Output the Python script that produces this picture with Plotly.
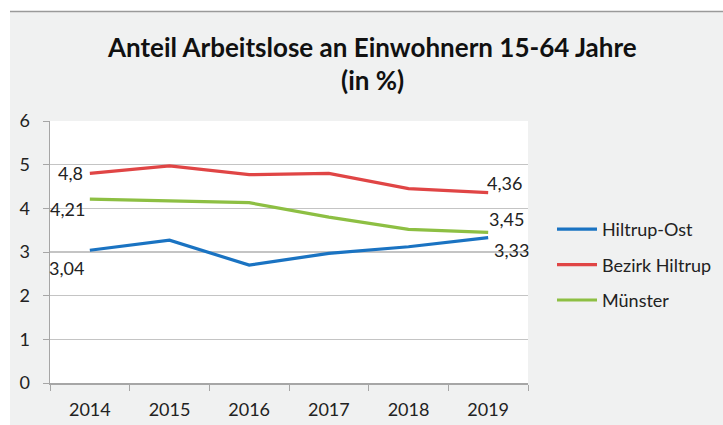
import plotly.graph_objects as go

years = ["2014", "2015", "2016", "2017", "2018", "2019"]
hiltrup_ost = [3.04, 3.27, 2.70, 2.97, 3.12, 3.33]
bezirk_hiltrup = [4.8, 4.97, 4.77, 4.80, 4.45, 4.36]
muenster = [4.21, 4.17, 4.13, 3.80, 3.52, 3.45]
series_names = ["Hiltrup-Ost", "Bezirk Hiltrup", "Münster"]
colors = ["#1a73c2", "#e04545", "#8dbf43"]
title_lines = ["Anteil Arbeitslose an Einwohnern 15-64 Jahre", "(in %)"]

FONT = "Lato"
series = [hiltrup_ost, bezirk_hiltrup, muenster]

W, H = 723, 425
L, R, T, B = 50, 723 - 528, 121, 425 - 383
pw, ph = W - L - R, H - T - B

def px2x(px):  # page px -> paper x
    return (px - L) / pw

def py2y(py):  # page px -> paper y
    return (H - B - py) / ph

fig = go.Figure()
for i, (name, vals) in enumerate(zip(series_names, series)):
    fig.add_trace(go.Scatter(
        x=years, y=vals, name=name, mode="lines",
        line=dict(color=colors[i], width=3.2),
        legendgroup=name, hoverinfo="skip",
    ))

def lab(v):
    return f"{v}".replace(".", ",")

ann = []
first_shifts = [(-4, -18), (-5, 0), (-3, -10)]
last_shifts = [(4, -12), (-3, 10), (-1, 13)]
for i, vals in enumerate(series):
    dx, dy = first_shifts[i]
    ann.append(dict(x=0, y=vals[0], xref="x", yref="y", text=lab(vals[0]),
                    showarrow=False, xanchor="right", yanchor="middle",
                    xshift=dx, yshift=dy, font=dict(family=FONT, size=18, color="#222")))
    dx, dy = last_shifts[i]
    ann.append(dict(x=len(years) - 1, y=vals[-1], xref="x", yref="y", text=lab(vals[-1]),
                    showarrow=False, xanchor="left", yanchor="middle",
                    xshift=dx, yshift=dy, font=dict(family=FONT, size=18, color="#222")))

for txt, py in zip(title_lines, [47, 80]):
    ann.append(dict(x=px2x(372), y=py2y(py), xref="paper", yref="paper", text=f"<b>{txt}</b>",
                    showarrow=False, xanchor="center", yanchor="middle",
                    font=dict(family=FONT, size=26, color="#111")))

shapes = [
    dict(type="rect", xref="paper", yref="paper", x0=px2x(0), x1=px2x(10), y0=py2y(430), y1=py2y(0),
         fillcolor="white", line=dict(width=0), layer="below"),
    dict(type="rect", xref="paper", yref="paper", x0=px2x(0), x1=px2x(730), y0=py2y(11), y1=py2y(0),
         fillcolor="white", line=dict(width=0), layer="below"),
    dict(type="line", xref="paper", yref="paper", x0=px2x(10), x1=px2x(730), y0=py2y(11.5), y1=py2y(11.5),
         line=dict(color="#9a9a9a", width=1.5)),
]

fig.update_layout(
    width=W, height=H,
    margin=dict(l=L, r=R, t=T, b=B, autoexpand=False),
    paper_bgcolor="#f0f1f1",
    plot_bgcolor="white",
    font=dict(family=FONT, size=18, color="#222"),
    showlegend=True,
    hovermode=False,
    legend=dict(x=px2x(552), y=py2y(265), xanchor="left", yanchor="middle",
                bgcolor="rgba(0,0,0,0)", font=dict(family=FONT, size=18, color="#222"),
                tracegroupgap=9, itemwidth=40),
    annotations=ann,
    shapes=shapes,
)
fig.update_xaxes(type="category", range=[-0.5, 5.5], showgrid=False, automargin=False,
                 showline=True, linecolor="#a6a6a6", linewidth=1.5,
                 ticks="outside", tickson="boundaries", ticklen=6, tickcolor="#a6a6a6",
                 ticklabelstandoff=10, tickfont=dict(family=FONT, size=18, color="#222"))
fig.update_yaxes(range=[0, 6], dtick=1, showgrid=True, gridcolor="#c4c4c4", gridwidth=1.5,
                 automargin=False,
                 showline=True, linecolor="#a6a6a6", linewidth=1.5, zeroline=False,
                 ticks="outside", ticklen=6, tickcolor="#a6a6a6",
                 ticklabelstandoff=9, tickfont=dict(family=FONT, size=18, color="#222"))

fig.write_html("out.html", config={"displayModeBar": False, "staticPlot": True},
               post_script="document.body.style.margin='0';")
